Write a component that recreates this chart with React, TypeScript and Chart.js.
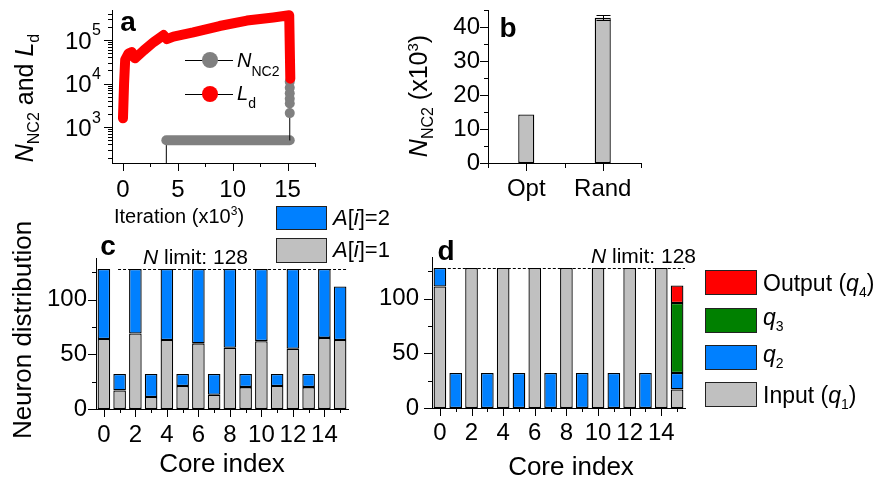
import React, { useEffect, useRef } from 'react';
import { Chart, registerables } from 'chart.js';

Chart.register(...registerables);

const FONT = '"Liberation Sans", Arial, Helvetica, sans-serif';
Chart.defaults.font.family = FONT;
Chart.defaults.color = '#000';

// ---------- Panel a : optimisation trajectory ----------
const ldIter = [0, 0.1, 0.2, 0.5, 0.8, 1.1, 1.9, 2.8, 3.7, 4.0, 4.6, 6.4, 8.8, 11.3, 13.7, 15.15, 15.25];
const ldVal = [1600, 1e4, 3.5e4, 4.9e4, 5.3e4, 3.8e4, 5.8e4, 9e4, 1.3e5, 1.05e5, 1.2e5, 1.5e5, 2.1e5, 2.8e5, 3.3e5, 3.7e5, 1.3e4];
const nIter = [3.95, 3.95, 15.2, 15.2, 15.2, 15.2, 15.2, 15.2, 15.2];
const nVal = [1, 500, 500, 2100, 3500, 4500, 6000, 8000, 1.1e4];
const aXMajor = [0, 5, 10, 15];
const aXMinor = [2.5, 7.5, 12.5, 17.5];
const aYMajor = [1e3, 1e4, 1e5];
const aYExp = ['3', '4', '5'];
const aYMinor: number[] = [];
[100, 1000, 10000, 100000].forEach((d) => {
  for (let m = 2; m <= 9; m++) if (m * d >= 150 && m * d <= 4.9e5) aYMinor.push(m * d);
});

// ---------- Panel b : Opt vs Rand ----------
const bCats = ['Opt', 'Rand'];
const bVals = [14.3, 42.7];
const bErr = [0, 0.7];

// ---------- Panel c / d : neuron distribution ----------
const cores = ['0', '1', '2', '3', '4', '5', '6', '7', '8', '9', '10', '11', '12', '13', '14', '15'];
const cA1 = [64, 17, 69, 11, 63, 21, 60, 13, 56, 20, 62, 21, 55, 20, 65, 63];
const cA2 = [64, 15, 59, 21, 65, 11, 68, 19, 72, 12, 66, 11, 73, 12, 63, 49];
const dQ1 = [111, null, 128, null, 128, null, 128, null, 128, null, 128, null, 128, null, 128, 17];
const dQ2 = [17, 32, null, 32, null, 32, null, 32, null, 32, null, 32, null, 32, null, 15];
const dQ3 = [null, null, null, null, null, null, null, null, null, null, null, null, null, null, null, 64];
const dQ4 = [null, null, null, null, null, null, null, null, null, null, null, null, null, null, null, 16];
const nLimit = 128;
const coreMajor = [0, 2, 4, 6, 8, 10, 12, 14];
const coreMinor = [1, 3, 5, 7, 9, 11, 13, 15];

const GRAY = '#c0c0c0';
const BLUE = '#0080ff';
const GREEN = '#008000';
const RED = '#ff0000';
const DOT = '#808080';

const fixY = (w: number) => (s: any) => { s.width = w; s.paddingTop = 0; s.paddingBottom = 0; };
const fixX = (h: number) => (s: any) => { s.height = h; s.paddingLeft = 0; s.paddingRight = 0; };
const border = { display: true, color: '#000', width: 1 };
const noGrid = { display: false, drawTicks: false, tickLength: 0 };

type TickCfg = { xMajor: number[]; xMinor: number[]; yMajor: number[]; yMinor: number[]; xMinLen?: number };
const makeTicks = (cfg: TickCfg) => ({
  id: 'tickMarks',
  afterDraw(chart: any) {
    const { ctx, chartArea: a, scales } = chart;
    const xs = scales.x, ys = scales.y;
    ctx.save();
    ctx.strokeStyle = '#000';
    ctx.lineWidth = 1;
    const seg = (x1: number, y1: number, x2: number, y2: number) => {
      ctx.beginPath(); ctx.moveTo(x1, y1); ctx.lineTo(x2, y2); ctx.stroke();
    };
    const px = (v: number) => Math.round(xs.getPixelForValue(v)) + 0.5;
    const py = (v: number) => Math.round(ys.getPixelForValue(v)) + 0.5;
    const b = Math.round(a.bottom), l = Math.round(a.left);
    cfg.xMajor.forEach((v) => seg(px(v), b, px(v), b + 8));
    cfg.xMinor.forEach((v) => seg(px(v), b, px(v), b + (cfg.xMinLen || 4)));
    cfg.yMajor.forEach((v) => seg(l - 8, py(v), l, py(v)));
    cfg.yMinor.forEach((v) => seg(l - 4, py(v), l, py(v)));
    ctx.restore();
  },
});

const logLabels = {
  id: 'logLabels',
  afterDraw(chart: any) {
    const { ctx, chartArea: a, scales } = chart;
    ctx.save();
    ctx.fillStyle = '#000';
    ctx.textBaseline = 'middle';
    ctx.textAlign = 'right';
    aYMajor.forEach((v, i) => {
      const y = scales.y.getPixelForValue(v);
      const xr = a.left - 11;
      ctx.font = `16px ${FONT}`;
      const w = ctx.measureText(aYExp[i]).width;
      ctx.fillText(aYExp[i], xr, y - 9);
      ctx.font = `24px ${FONT}`;
      ctx.fillText('10', xr - w - 0.5, y + 2);
    });
    ctx.restore();
  },
};

const errBars = {
  id: 'errBars',
  afterDatasetsDraw(chart: any) {
    const { ctx, scales } = chart;
    ctx.save();
    ctx.strokeStyle = '#000';
    ctx.lineWidth = 1;
    bVals.forEach((v, i) => {
      if (!bErr[i]) return;
      const x = Math.round(scales.x.getPixelForValue(i)) + 0.5;
      const y1 = Math.round(scales.y.getPixelForValue(v + bErr[i])) + 0.5;
      const y2 = Math.round(scales.y.getPixelForValue(v - bErr[i])) + 0.5;
      ctx.beginPath();
      ctx.moveTo(x, y1); ctx.lineTo(x, y2);
      ctx.moveTo(x - 7, y1); ctx.lineTo(x + 7, y1);
      ctx.moveTo(x - 7, y2); ctx.lineTo(x + 7, y2);
      ctx.stroke();
    });
    ctx.restore();
  },
};

const makeLimit = (startIdx: number) => ({
  id: 'limitLine',
  afterDatasetsDraw(chart: any) {
    const { ctx, chartArea: a, scales } = chart;
    const y = Math.round(scales.y.getPixelForValue(nLimit)) + 0.5;
    ctx.save();
    ctx.strokeStyle = '#000';
    ctx.lineWidth = 1;
    ctx.setLineDash([3, 2]);
    ctx.beginPath();
    ctx.moveTo(scales.x.getPixelForValue(startIdx), y);
    ctx.lineTo(a.right, y);
    ctx.stroke();
    ctx.restore();
  },
});

const baseOpts = (pad: any) => ({
  animation: false,
  responsive: false,
  maintainAspectRatio: false,
  events: [],
  layout: { padding: pad, autoPadding: false },
  plugins: { legend: { display: false }, tooltip: { enabled: false } },
});

const configA = () => ({
  type: 'line',
  data: {
    datasets: [
      {
        label: 'Ld',
        data: ldIter.map((x, i) => ({ x, y: ldVal[i] })),
        borderColor: RED,
        borderWidth: 10,
        borderCapStyle: 'round',
        borderJoinStyle: 'round',
        pointRadius: 0,
        tension: 0,
        order: 0,
      },
      {
        label: 'NNC2',
        data: nIter.map((x, i) => ({ x, y: nVal[i] })),
        borderColor: '#000',
        borderWidth: 1,
        borderCapStyle: 'round',
        segment: {
          borderColor: (c: any) => (c.p0.parsed.y === c.p1.parsed.y ? DOT : '#000'),
          borderWidth: (c: any) => (c.p0.parsed.y === c.p1.parsed.y ? 10 : 1),
        },
        pointRadius: (c: any) => (c.raw && c.raw.y >= 2000 ? 5 : 0),
        pointBackgroundColor: DOT,
        pointBorderWidth: 0,
        clip: 0,
        order: 1,
      },
    ],
  },
  options: {
    ...baseOpts({ top: 10, right: 15, left: 0, bottom: 0 }),
    scales: {
      x: {
        type: 'linear', min: -1, max: 17.5,
        grid: noGrid, border,
        ticks: { stepSize: 5, includeBounds: false, font: { size: 24 }, color: '#000', padding: 13, maxRotation: 0 },
        afterFit: fixX(72),
      },
      y: {
        type: 'logarithmic', min: 150, max: 4.9e5,
        grid: noGrid, border,
        ticks: { display: false },
        afterFit: fixY(112),
      },
    },
  },
  plugins: [makeTicks({ xMajor: aXMajor, xMinor: aXMinor, yMajor: aYMajor, yMinor: aYMinor }), logLabels],
});

const configB = () => ({
  type: 'bar',
  data: {
    labels: bCats,
    datasets: [{
      label: 'NNC2', data: bVals, backgroundColor: GRAY, borderColor: '#000', borderWidth: 1.3,
      borderSkipped: false, barPercentage: 0.21, categoryPercentage: 1,
    }],
  },
  options: {
    ...baseOpts({ top: 10, right: 19, left: 0, bottom: 0 }),
    scales: {
      x: {
        type: 'category', offset: true, grid: { ...noGrid, offset: false }, border,
        ticks: { font: { size: 24 }, color: '#000', padding: 12, maxRotation: 0, autoSkip: false },
        afterFit: fixX(72),
      },
      y: {
        min: 0, max: 45, grid: noGrid, border,
        ticks: { stepSize: 10, includeBounds: false, font: { size: 24 }, color: '#000', padding: 8 },
        afterFit: fixY(158),
      },
    },
  },
  plugins: [makeTicks({ xMajor: [0, 1], xMinor: [-0.5, 0.5, 1.5], yMajor: [0, 10, 20, 30, 40], yMinor: [5, 15, 25, 35, 45], xMinLen: 5 }), errBars],
});

const coreScales = (yW: number, xH: number, yPad: number, xPad: number) => ({
  x: {
    type: 'category', offset: true, stacked: true, grid: { ...noGrid, offset: false }, border,
    ticks: {
      font: { size: 24 }, color: '#000', padding: xPad, maxRotation: 0, minRotation: 0, autoSkip: false,
      callback: (_v: any, i: number) => (i % 2 === 0 ? cores[i] : ''),
    },
    afterFit: fixX(xH),
  },
  y: {
    min: 0, max: 138, stacked: true, grid: noGrid, border,
    ticks: { stepSize: 50, includeBounds: false, font: { size: 24 }, color: '#000', padding: yPad },
    afterFit: fixY(yW),
  },
});

const barDs = (label: string, data: any[], color: string) => ({
  label, data, backgroundColor: color, borderColor: '#000', borderWidth: 1.3, borderSkipped: false,
  barPercentage: 0.8, categoryPercentage: 1,
});

const configC = () => ({
  type: 'bar',
  data: { labels: cores, datasets: [barDs('A[i]=1', cA1, GRAY), barDs('A[i]=2', cA2, BLUE)] },
  options: { ...baseOpts({ top: 23, right: 12, left: 0, bottom: 0 }), scales: coreScales(96, 71, 9, 12) },
  plugins: [makeTicks({ xMajor: coreMajor, xMinor: coreMinor, yMajor: [0, 50, 100], yMinor: [25, 75, 125] }), makeLimit(0.9)],
});

const configD = () => ({
  type: 'bar',
  data: {
    labels: cores,
    datasets: [
      barDs('Input (q1)', dQ1, GRAY), barDs('q2', dQ2, BLUE), barDs('q3', dQ3, GREEN), barDs('Output (q4)', dQ4, RED),
    ],
  },
  options: { ...baseOpts({ top: 22, right: 15, left: 0, bottom: 0 }), scales: coreScales(72, 72, 13, 11) },
  plugins: [makeTicks({ xMajor: coreMajor, xMinor: coreMinor, yMajor: [0, 50, 100], yMinor: [25, 75, 125] }), makeLimit(0.5)],
});

function ChartBox({ left, top, width, height, make }: any) {
  const ref = useRef<HTMLCanvasElement>(null);
  useEffect(() => {
    const chart = new Chart(ref.current as HTMLCanvasElement, make() as any);
    return () => chart.destroy();
  }, []);
  return <canvas ref={ref} width={width} height={height} style={{ position: 'absolute', left, top, width, height }} />;
}

const S = ({ size, dy, children }: any) => (
  <span style={{ fontSize: size, position: 'relative', top: dy }}>{children}</span>
);

const T = ({ x, y, size, rot, anchor = 'c', bold, children }: any) => (
  <div
    style={{
      position: 'absolute', left: x, top: y,
      transform: anchor === 'l' ? 'translate(0,-50%)' : `translate(-50%,-50%)${rot ? ' rotate(-90deg)' : ''}`,
      fontSize: size, fontFamily: FONT, fontWeight: bold ? 'bold' : 'normal',
      whiteSpace: 'nowrap', lineHeight: 1, color: '#000',
    }}
  >
    {children}
  </div>
);

const Box = ({ x, y, w, h, color }: any) => (
  <div style={{ position: 'absolute', left: x, top: y, width: w, height: h, background: color, border: '1px solid #222', boxSizing: 'border-box' }} />
);

const LegendMark = ({ y, color }: any) => (
  <>
    <div style={{ position: 'absolute', left: 185, top: y - 0.5, width: 48, height: 1, background: '#000' }} />
    <div style={{ position: 'absolute', left: 202, top: y - 8, width: 16, height: 16, borderRadius: '50%', background: color }} />
  </>
);

export default function App() {
  return (
    <div style={{ position: 'absolute', left: 0, top: 0, width: 877, height: 480, background: '#fff', overflow: 'hidden' }}>
      <ChartBox left={0} top={0} width={330} height={235} make={configA} />
      <ChartBox left={330} top={0} width={330} height={235} make={configB} />
      <ChartBox left={0} top={235} width={360} height={245} make={configC} />
      <ChartBox left={360} top={235} width={340} height={245} make={configD} />

      {/* panel a */}
      <T x={128} y={22} size={28} bold>a</T>
      <T x={24} y={98} size={25} rot>
        <i>N</i><S size={16} dy={6}>NC2</S> and <i>L</i><S size={16} dy={6}>d</S>
      </T>
      <T x={179} y={216} size={20}>
        Iteration (x10<S size={12} dy={-8}>3</S>)
      </T>
      <LegendMark y={60} color={DOT} />
      <LegendMark y={94} color={RED} />
      <T x={237} y={60} size={20} anchor="l"><i>N</i><S size={14} dy={9}>NC2</S></T>
      <T x={237} y={93} size={20} anchor="l"><i>L</i><S size={14} dy={8}>d</S></T>

      {/* panel b */}
      <T x={508} y={28} size={28} bold>b</T>
      <T x={418} y={96} size={25} rot>
        <i>N</i><S size={16} dy={6}>NC2</S> (x10<S size={15} dy={-9}>3</S>)
      </T>

      {/* panel c */}
      <T x={108} y={246} size={28} bold>c</T>
      <T x={22} y={330} size={26} rot>Neuron distribution</T>
      <T x={143} y={256} size={21} anchor="l"><i>N</i> limit: 128</T>
      <Box x={276} y={206} w={51} h={24} color={BLUE} />
      <Box x={276} y={238} w={51} h={25} color={GRAY} />
      <T x={333} y={218} size={22} anchor="l"><i>A</i>[<i>i</i>]=2</T>
      <T x={333} y={250} size={22} anchor="l"><i>A</i>[<i>i</i>]=1</T>
      <T x={222} y={463} size={26}>Core index</T>

      {/* panel d */}
      <T x={446} y={251} size={28} bold>d</T>
      <T x={591} y={255} size={21} anchor="l"><i>N</i> limit: 128</T>
      <T x={571} y={466} size={26}>Core index</T>
      <Box x={705} y={270} w={52} h={25} color={RED} />
      <Box x={705} y={308} w={52} h={25} color={GREEN} />
      <Box x={705} y={345} w={52} h={25} color={BLUE} />
      <Box x={705} y={382} w={52} h={25} color={GRAY} />
      <T x={763} y={283} size={23} anchor="l">Output (<i>q</i><S size={14} dy={6}>4</S>)</T>
      <T x={763} y={317} size={23} anchor="l"><i>q</i><S size={14} dy={6}>3</S></T>
      <T x={763} y={354} size={23} anchor="l"><i>q</i><S size={14} dy={6}>2</S></T>
      <T x={763} y={395} size={23} anchor="l">Input (<i>q</i><S size={14} dy={6}>1</S>)</T>
    </div>
  );
}
